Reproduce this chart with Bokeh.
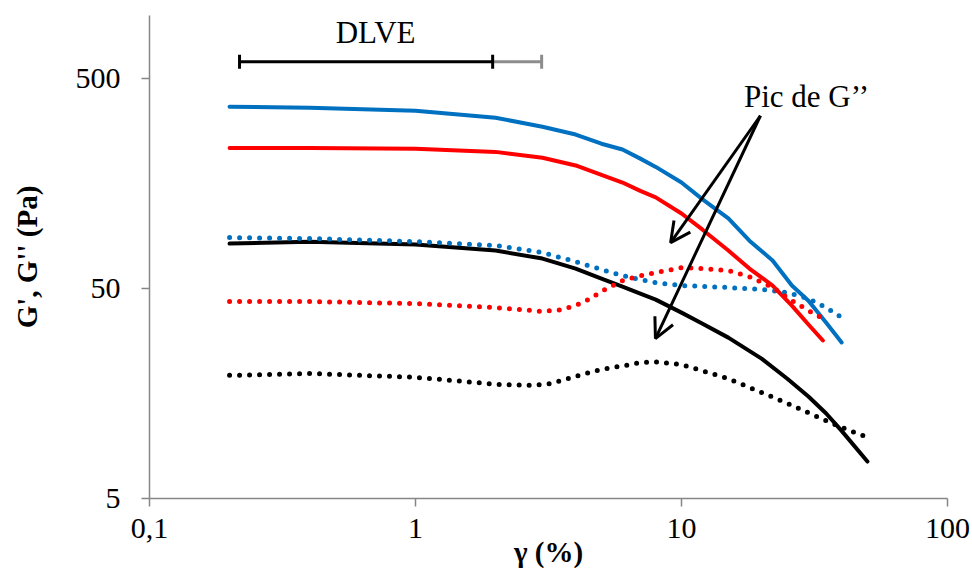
import math
from bokeh.plotting import figure
from bokeh.models import FixedTicker, Label, Arrow, OpenHead
from bokeh.embed import file_html
from bokeh.resources import INLINE

# ---- data ----
x_a_gp = [0.2, 0.4, 1, 2, 3, 4, 5, 6, 7, 8, 10, 12, 15, 18, 22, 26, 30, 35, 40]
y_a_gp = [368, 364, 352, 326, 295, 271, 245, 230, 208, 190, 160, 133, 108, 84.6, 68, 51.7, 43.8, 34.4, 27.7]

x_b_gp = [0.2, 0.4, 1, 2, 3, 4, 5, 6, 7, 8, 10, 12, 15, 18, 22, 26, 30, 34]
y_b_gp = [234, 234, 232, 224, 210, 193, 174, 160, 146, 136, 114, 95.4, 75.9, 62.3, 51.7, 41.5, 33.7, 28.3]

x_c_gp = [0.2, 0.4, 1, 2, 3, 4, 5, 6, 7, 8, 10, 12, 15, 20, 25, 30, 35, 40, 50]
y_c_gp = [81.9, 83.6, 81, 75.9, 69.5, 62.3, 55.8, 51.1, 47.3, 44.3, 38.4, 34.0, 29.2, 23.2, 18.6, 15.3, 12.7, 10.5, 7.5]

x_a_gpp = [0.2, 0.4, 1, 2, 3, 4, 5, 6, 7, 8, 10, 15, 20, 25, 30, 35, 40]
y_a_gpp = [87.5, 86.6, 83.7, 80.2, 74.2, 67.2, 61.6, 57.7, 55.2, 53.4, 51.7, 50.6, 49.5, 47.9, 44.8, 40.6, 36.4]

x_b_gpp = [0.2, 0.4, 1, 2, 2.5, 3, 3.5, 4, 4.5, 5, 6, 7, 8, 10, 12, 15, 18, 22, 26, 30, 33]
y_b_gpp = [43.4, 43.4, 42.4, 40.6, 39.7, 38.9, 39.6, 41.5, 44.5, 48.5, 54.5, 57.5, 59.6, 62.9, 62.3, 61, 57, 50.6, 43.8, 39.3, 36.8]

x_c_gpp = [0.2, 0.4, 1, 2, 2.7, 3.2, 4, 5, 6, 7, 8, 10, 12, 15, 20, 25, 30, 40, 50]
y_c_gpp = [19.3, 19.7, 18.9, 17.5, 17.3, 17.6, 19.1, 20.6, 21.4, 22.2, 22.4, 21.7, 20.3, 18.6, 16.0, 14.2, 12.8, 10.9, 9.8]

x_ticks = [0.1, 1, 10, 100]
x_tick_labels = ["0,1", "1", "10", "100"]
y_ticks = [5, 50, 500]
y_tick_labels = ["5", "50", "500"]

BLUE = "#0070C0"
RED = "#FF0000"
BLACK = "#000000"
GRAY = "#868686"
FONT = "'Liberation Serif', 'Times New Roman', serif"

p = figure(width=970, height=582, x_axis_type="log", y_axis_type="log",
           x_range=(0.1, 100), y_range=(5, 1000),
           output_backend="svg", toolbar_location=None,
           min_border_left=149, min_border_right=23, min_border_top=15, min_border_bottom=84)
p.outline_line_color = None
p.xgrid.visible = False
p.ygrid.visible = False
p.background_fill_color = "white"
p.border_fill_color = "white"

for ax in (p.xaxis[0], p.yaxis[0]):
    ax.axis_line_color = GRAY
    ax.axis_line_width = 1.5
    ax.major_tick_line_color = GRAY
    ax.major_tick_line_width = 1.5
    ax.major_tick_in = 0
    ax.major_tick_out = 8
    ax.minor_tick_in = 0
    ax.minor_tick_out = 0
    ax.major_label_text_font = FONT
    ax.major_label_text_font_size = "30px"
    ax.major_label_text_color = "black"
    ax.axis_label_text_font = FONT
    ax.axis_label_text_font_size = "29px"
    ax.axis_label_text_font_style = "bold"
    ax.axis_label_text_color = "black"

p.xaxis[0].ticker = FixedTicker(ticks=x_ticks)
p.xaxis[0].major_label_overrides = {t: l for t, l in zip(x_ticks, x_tick_labels)}
p.xaxis[0].major_label_standoff = 12
p.xaxis[0].axis_label = "γ (%)"
p.xaxis[0].axis_label_standoff = -5

p.yaxis[0].ticker = FixedTicker(ticks=y_ticks)
p.yaxis[0].major_label_overrides = {t: l for t, l in zip(y_ticks, y_tick_labels)}
p.yaxis[0].major_label_standoff = 21
p.yaxis[0].axis_label = "G', G'' (Pa)"
p.yaxis[0].axis_label_standoff = 30

# solid G' curves
p.line(x_a_gp, y_a_gp, line_color=BLUE, line_width=4, line_cap="round", line_join="round")
p.line(x_b_gp, y_b_gp, line_color=RED, line_width=4, line_cap="round", line_join="round")
p.line(x_c_gp, y_c_gp, line_color=BLACK, line_width=4, line_cap="round", line_join="round")
# dotted G'' curves
for xs, ys, c in ((x_a_gpp, y_a_gpp, BLUE), (x_b_gpp, y_b_gpp, RED), (x_c_gpp, y_c_gpp, BLACK)):
    p.line(xs, ys, line_color=c, line_width=5, line_dash="0 10", line_cap="round", line_join="round")

# DLVE bar
dlve_start, dlve_end, dlve_ext, dlve_y = 0.218, 1.95, 2.98, 602
p.segment(x0=[dlve_start], y0=[dlve_y], x1=[dlve_end], y1=[dlve_y], line_color=BLACK, line_width=3)
p.segment(x0=[dlve_end], y0=[dlve_y], x1=[dlve_ext], y1=[dlve_y], line_color="#8C8C8C", line_width=3)
p.scatter(x=[dlve_start, dlve_end], y=[dlve_y, dlve_y], marker="dash", size=14, angle=math.pi / 2,
          line_color=BLACK, line_width=3)
p.scatter(x=[dlve_ext], y=[dlve_y], marker="dash", size=14, angle=math.pi / 2,
          line_color="#8C8C8C", line_width=3)
p.add_layout(Label(x=0.708, y=830, text="DLVE", text_align="center", text_baseline="middle",
                   text_font=FONT, text_font_size="31px", text_color="black"))

# Pic de G'' annotation
p.add_layout(Label(x=29.5, y=410, text="Pic de G’’", text_align="center", text_baseline="middle",
                   text_font=FONT, text_font_size="31px", text_color="black"))
arrow_start = (19.8, 333)
for tip in ((9.1, 82.8), (7.98, 28.9)):
    p.add_layout(Arrow(x_start=arrow_start[0], y_start=arrow_start[1], x_end=tip[0], y_end=tip[1],
                       line_color=BLACK, line_width=3,
                       end=OpenHead(size=20, line_color=BLACK, line_width=3)))

open("out.html", "w").write(file_html(p, INLINE))
